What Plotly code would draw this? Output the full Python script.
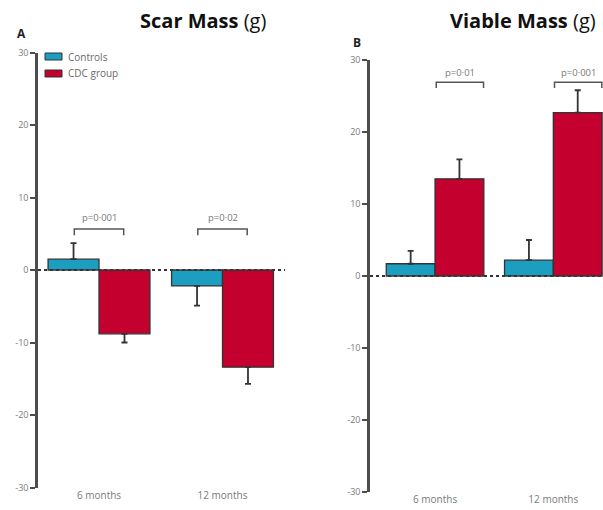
import plotly.graph_objects as go

# ---- data -------------------------------------------------------------
periods = ["6 months", "12 months"]

scar_controls = [1.5, -2.2]
scar_controls_err = [2.2, 2.7]
scar_cdc = [-8.8, -13.4]
scar_cdc_err = [1.2, 2.3]

viable_controls = [1.7, 2.2]
viable_controls_err = [1.8, 2.8]
viable_cdc = [13.5, 22.7]
viable_cdc_err = [2.7, 3.1]

scar_pvalues = ["p=0·001", "p=0·02"]
viable_pvalues = ["p=0·01", "p=0·001"]

y_ticks = [-30, -20, -10, 0, 10, 20, 30]
y_ticktext = ["-30", "-20", "-10", "0", "10", "20", "30"]

legend_names = ["Controls", "CDC group"]

# ---- styling ----------------------------------------------------------
W, H = 603, 510
CONTROL_COLOR = "#1b9ec0"
CDC_COLOR = "#c4002f"
OUTLINE = "#333333"
AXIS_COLOR = "#4d4d4d"
FONT = "Open Sans"
TICK_FONT = dict(family=FONT, size=9, color="#7a7a7a")


def px_x(p):
    return p / W


def px_y(p):
    return 1 - p / H


def one_sided(values, errs):
    up = [e if v >= 0 else 0 for v, e in zip(values, errs)]
    down = [e if v < 0 else 0 for v, e in zip(values, errs)]
    return dict(type="data", symmetric=False, array=up, arrayminus=down,
                color="#333333", thickness=1.8, width=3)


xpos = list(range(len(periods)))

fig = go.Figure()


def add_bars(vals, errs, name, color, xa, ya):
    fig.add_trace(go.Bar(
        x=xpos, y=vals, name=name,
        marker=dict(color=color, line=dict(color=OUTLINE, width=1.3)),
        error_y=one_sided(vals, errs), xaxis=xa, yaxis=ya, showlegend=False,
        offsetgroup=name,
    ))


add_bars(scar_controls, scar_controls_err, legend_names[0], CONTROL_COLOR, "x", "y")
add_bars(scar_cdc, scar_cdc_err, legend_names[1], CDC_COLOR, "x", "y")
add_bars(viable_controls, viable_controls_err, legend_names[0], CONTROL_COLOR, "x2", "y2")
add_bars(viable_cdc, viable_cdc_err, legend_names[1], CDC_COLOR, "x2", "y2")

yaxis_common = dict(
    range=[-30, 30], tickvals=y_ticks, ticktext=y_ticktext, tickfont=TICK_FONT,
    showgrid=False, zeroline=False, showline=True, linecolor=AXIS_COLOR, linewidth=2.5,
    ticks="outside", ticklen=5, tickwidth=2, tickcolor=AXIS_COLOR, automargin=False,
)
xaxis_common = dict(
    tickvals=xpos, ticktext=periods, tickfont=dict(family=FONT, size=10, color="#7a7a7a"),
    showgrid=False, zeroline=False, showline=False, ticks="", automargin=False,
)

fig.update_layout(
    width=W, height=H, margin=dict(l=0, r=0, t=0, b=0, pad=0),
    paper_bgcolor="white", plot_bgcolor="white",
    barmode="group", bargap=0.175, bargroupgap=0,
    xaxis=dict(domain=[px_x(38), px_x(285)], range=[-0.494, 1.506], anchor="y", **xaxis_common),
    yaxis=dict(domain=[px_y(487.5), px_y(52.5)], anchor="x", **yaxis_common),
    xaxis2=dict(domain=[px_x(370), 1.0], range=[-0.55, 1.42], anchor="y2", **xaxis_common),
    yaxis2=dict(domain=[px_y(492), px_y(60)], anchor="x2", **yaxis_common),
    showlegend=False,
)

# dotted zero reference lines
for xr, yr, x0, x1 in [("x", "y", -0.494, 1.506), ("x2", "y2", -0.55, 1.42)]:
    fig.add_shape(type="line", xref=xr, yref=yr, x0=x0, x1=x1, y0=0, y1=0,
                  line=dict(color="#333333", width=2, dash="dot"))


# significance brackets
def bracket(xr, yr, xa, xb, ytop, ybot, text, ytext):
    fig.add_shape(type="path", xref=xr, yref=yr,
                  path=f"M {xa} {ybot} L {xa} {ytop} L {xb} {ytop} L {xb} {ybot}",
                  line=dict(color="#555555", width=1.5))
    fig.add_annotation(xref=xr, yref=yr, x=(xa + xb) / 2, y=ytext, text=text, showarrow=False,
                       xanchor="center", yanchor="middle",
                       font=dict(family=FONT, size=9.5, color="#7a7a7a"))


for i, p in enumerate(scar_pvalues):
    bracket("x", "y", i - 0.2, i + 0.2, 5.66, 4.8, p, 7.2)
for i, p in enumerate(viable_pvalues):
    bracket("x2", "y2", i + 0.01, i + 0.41, 26.9, 26.1, p, 28.3)

# legend: colour swatches with labels
for k, (name, color) in enumerate(zip(legend_names, [CONTROL_COLOR, CDC_COLOR])):
    top = 53 + 17 * k
    fig.add_shape(type="rect", xref="paper", yref="paper",
                  x0=px_x(45), x1=px_x(62), y0=px_y(top + 7), y1=px_y(top),
                  fillcolor=color, line=dict(color=OUTLINE, width=1))
    fig.add_annotation(xref="paper", yref="paper", x=px_x(66), y=px_y(top + 3.5), text=name,
                       xanchor="left", yanchor="middle", showarrow=False,
                       font=dict(family=FONT, size=10, color="#6a6a6a"))


# titles and panel letters
def label(x, y, text, size, color):
    fig.add_annotation(xref="paper", yref="paper", x=px_x(x), y=px_y(y), text=text,
                       xanchor="center", yanchor="middle", showarrow=False,
                       font=dict(family=FONT, size=size, color=color))


label(203, 21, "<b>Scar Mass</b> (g)", 20, "#111111")
label(523, 21, "<b>Viable Mass</b> (g)", 20, "#111111")
label(21, 34, "<b>A</b>", 12, "#222222")
label(357, 42, "<b>B</b>", 12, "#222222")

fig.write_html("out.html")
